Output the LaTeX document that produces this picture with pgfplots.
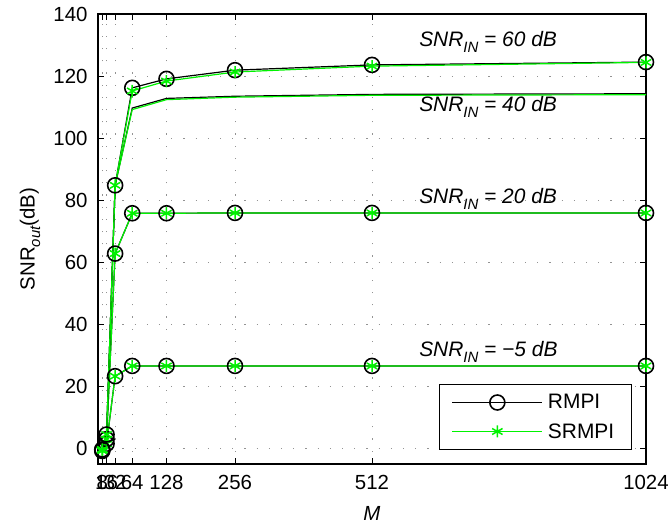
\documentclass[border=0pt]{standalone}
\usepackage{fontspec}
\setmainfont{Liberation Sans}
\usepackage{pgfplots}
\pgfplotsset{compat=1.18}
\definecolor{mgreen}{rgb}{0,0.95,0}
\newcommand{\snrlab}[1]{\itshape SNR\raisebox{-0.55ex}{\fontsize{15}{15}\selectfont IN} = #1 dB}
\begin{document}
\begin{tikzpicture}
\begin{axis}[
  scale only axis, width=548bp, height=450bp,
  xmin=0, xmax=1024, ymin=-5, ymax=140,
  xtick={8,16,32,64,128,256,512,1024},
  ytick={0,20,40,60,80,100,120,140},
  /pgf/number format/assume math mode=true,
  /pgf/number format/1000 sep={},
  tick align=inside, major tick length=6bp,
  tick style={black, line width=0.9bp},
  axis line style={black, line width=1.1bp},
  grid=major,
  major grid style={gray!85, line width=1bp, dash pattern=on 1.2bp off 11bp},
  tick label style={font=\fontsize{20.5}{24}\selectfont},
  yticklabel style={xshift=-7bp},
  xticklabel style={yshift=-8bp},
  xlabel={\itshape M},
  ylabel={SNR\raisebox{-0.5ex}{\fontsize{15}{15}\selectfont\itshape out}(dB)},
  label style={font=\fontsize{20.5}{24}\selectfont},
  xlabel style={yshift=-10bp},
  ylabel style={at={(axis description cs:-0.124,0.5)}, anchor=center},
  legend style={at={(axis description cs:0.974,0.031)}, anchor=south east,
    draw=black, line width=1bp, fill=white,
    font=\fontsize{21}{24}\selectfont,
    inner xsep=12bp, inner ysep=5bp, row sep=3bp,
    nodes={inner sep=5bp}},
  legend cell align=left,
  legend image code/.code={\draw[mark repeat=2,mark phase=2,line width=1.3bp] plot coordinates {(0bp,0bp) (45bp,0bp) (90bp,0bp)};},
]
% -5 dB
\addplot[black, line width=1.2bp, mark=o, mark size=7.5bp, mark options={solid, line width=1.6bp}]
  coordinates {(8,-0.8) (16,1.5) (32,23.3) (64,26.6) (128,26.6) (256,26.6) (512,26.6) (1024,26.6)};
\addlegendentry{RMPI}
\addplot[mgreen, line width=1.2bp, mark=asterisk, mark size=6bp, mark options={solid, line width=1.5bp}]
  coordinates {(8,-0.8) (16,1.5) (32,23.3) (64,26.6) (128,26.6) (256,26.6) (512,26.6) (1024,26.6)};
\addlegendentry{SRMPI}
% 20 dB
\addplot[black, line width=1.2bp, mark=o, mark size=7.5bp, mark options={solid, line width=1.6bp}, forget plot]
  coordinates {(8,-0.5) (16,3) (32,62.8) (64,75.8) (128,75.8) (256,75.9) (512,75.9) (1024,75.9)};
\addplot[mgreen, line width=1.2bp, mark=asterisk, mark size=6bp, mark options={solid, line width=1.5bp}, forget plot]
  coordinates {(8,-0.5) (16,3) (32,62.8) (64,75.8) (128,75.8) (256,75.9) (512,75.9) (1024,75.9)};
% 40 dB
\addplot[black, line width=1.2bp, forget plot]
  coordinates {(8,-0.3) (16,4) (32,84.8) (64,109.7) (128,112.8) (256,113.5) (512,114.1) (1024,114.3)};
\addplot[mgreen, line width=1.2bp, forget plot]
  coordinates {(8,-0.3) (16,4) (32,84.8) (64,109.2) (128,112.4) (256,113.2) (512,113.8) (1024,114.0)};
% 60 dB
\addplot[black, line width=1.2bp, mark=o, mark size=7.5bp, mark options={solid, line width=1.6bp}, forget plot]
  coordinates {(8,-0.3) (16,4.5) (32,84.8) (64,116.2) (128,119.1) (256,121.9) (512,123.6) (1024,124.5)};
\addplot[mgreen, line width=1.2bp, mark=asterisk, mark size=6bp, mark options={solid, line width=1.5bp}, forget plot]
  coordinates {(8,-0.3) (16,4.5) (32,84.8) (64,115.2) (128,118.4) (256,121.3) (512,123.2) (1024,124.4)};
% labels
\node[anchor=base west, inner sep=0pt, font=\fontsize{21}{24}\selectfont] at (axis cs:600,129.4) {\snrlab{60}};
\node[anchor=base west, inner sep=0pt, font=\fontsize{21}{24}\selectfont] at (axis cs:600,108.7) {\snrlab{40}};
\node[anchor=base west, inner sep=0pt, font=\fontsize{21}{24}\selectfont] at (axis cs:600,79.0) {\snrlab{20}};
\node[anchor=base west, inner sep=0pt, font=\fontsize{21}{24}\selectfont] at (axis cs:600,29.8) {\snrlab{−5}};
\end{axis}
\pgfresetboundingbox
\path (current axis.south west) ++(-98bp,-63bp) coordinate (bbsw);
\path (current axis.north east) ++(24bp,14bp) coordinate (bbne);
\path (bbsw) rectangle (bbne);
\end{tikzpicture}
\end{document}
